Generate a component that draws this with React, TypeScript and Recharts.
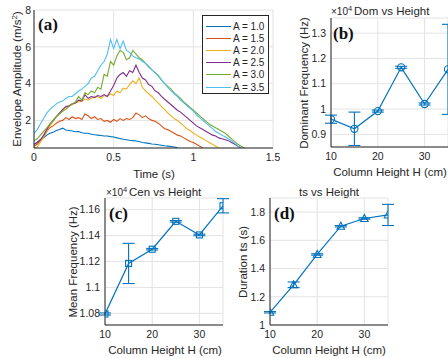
import React from "react";
import { LineChart, Line, XAxis, YAxis, CartesianGrid, ErrorBar } from "recharts";

// (a) envelope curves, sampled every 0.02 s
const time = [
  0, 0.02, 0.04, 0.06, 0.08, 0.1, 0.12, 0.14, 0.16, 0.18, 0.2, 0.22, 0.24, 0.26, 0.28, 0.3, 0.32,
  0.34, 0.36, 0.38, 0.4, 0.42, 0.44, 0.46, 0.48, 0.5, 0.52, 0.54, 0.56, 0.58, 0.6, 0.62, 0.64,
  0.66, 0.68, 0.7, 0.72, 0.74, 0.76, 0.78, 0.8, 0.82, 0.84, 0.86, 0.88, 0.9, 0.92, 0.94, 0.96,
  0.98, 1.0, 1.02, 1.04, 1.06, 1.08, 1.1, 1.12, 1.14, 1.16, 1.18, 1.2, 1.22, 1.24, 1.26, 1.28,
  1.3, 1.32,
];
const amp10 = [
  0.7, 0.8, 0.95, 1.05, 1.2, 1.3, 1.35, 1.45, 1.5, 1.58, 1.48, 1.45, 1.42, 1.38, 1.4, 1.33, 1.3,
  1.3, 1.25, 1.22, 1.2, 1.18, 1.15, 1.15, 1.12, 1.1, 1.05, 1.02, 0.98, 0.95, 0.92, 0.9, 0.88,
  0.85, 0.8, 0.78, 0.75, 0.72, 0.7, 0.68, 0.65, 0.62, 0.6, 0.58, 0.55, 0.52,
];
const amp15 = [
  0.6, 0.7, 0.9, 1.1, 1.4, 1.6, 1.7, 1.85, 1.95, 2.0, 2.15, 2.05, 2.2, 2.1, 2.15, 2.05, 2.35,
  2.25, 2.1, 2.2, 2.05, 2.1, 1.95, 2.0, 1.9, 2.05, 1.95, 2.1, 2.0, 2.1, 2.05, 2.15, 2.4, 2.3,
  2.15, 2.25, 2.1, 2.0, 1.95, 1.85, 1.7, 1.55, 1.5, 1.4, 1.3, 1.2, 1.15, 1.05, 0.95, 0.85, 0.8,
  0.7, 0.6, 0.52,
];
const amp20 = [
  0.5, 0.55, 0.8, 1.1, 1.4, 1.7, 1.95, 2.2, 2.4, 2.55, 2.7, 2.8, 2.85, 2.95, 3.0, 3.05, 3.15,
  3.1, 3.2, 3.25, 3.3, 3.2, 3.35, 3.3, 3.45, 3.35, 3.6, 3.5, 3.75, 3.7, 3.95, 4.15, 4.0, 4.3,
  3.8, 3.6, 3.45, 3.3, 3.1, 2.95, 2.75, 2.6, 2.4, 2.25, 2.1, 2.0, 1.85, 1.7, 1.55, 1.45, 1.3,
  1.2, 1.1, 1.0, 0.9, 0.8, 0.7, 0.6, 0.52,
];
const amp25 = [
  0.7, 0.8, 0.95, 1.2, 1.5, 1.8, 2.0, 2.2, 2.4, 2.6, 2.75, 2.8, 2.9, 2.95, 3.1, 3.05, 3.4, 3.2,
  3.3, 3.25, 3.35, 3.3, 3.4, 3.3, 3.6, 3.9, 4.3, 4.5, 4.6, 4.4, 4.7, 4.6, 5.0, 4.6, 4.3, 4.2,
  3.95, 3.85, 3.6, 3.5, 3.3, 3.15, 3.0, 2.85, 2.7, 2.55, 2.45, 2.3, 2.15, 2.0, 1.85, 1.7, 1.6,
  1.5, 1.4, 1.3, 1.2, 1.15, 1.05, 1.0, 0.95, 0.9, 0.8, 0.7, 0.6, 0.5,
];
const amp30 = [
  0.9, 1.0, 1.2, 1.4, 1.6, 1.8, 2.0, 2.2, 2.35, 2.5, 2.6, 2.75, 2.9, 3.0, 3.3, 3.1, 3.5, 3.4,
  3.6, 3.5, 3.8, 3.7, 4.5, 4.4, 5.2, 5.0, 5.5, 5.8, 5.7, 5.3, 5.4, 5.8, 5.6, 5.4, 5.3, 5.1, 4.9,
  4.75, 4.6, 4.45, 4.2, 4.0, 3.85, 3.7, 3.5, 3.35, 3.2, 3.0, 2.85, 2.7, 2.55, 2.4, 2.25, 2.1,
  1.95, 1.8, 1.7, 1.6, 1.5, 1.4, 1.3, 1.15, 1.0, 0.85, 0.7, 0.6, 0.5,
];
const amp35 = [
  1.3, 1.5, 1.8, 2.1, 2.4, 2.6, 2.75, 2.9, 3.0, 3.05, 3.2, 3.3, 3.3, 3.45, 3.6, 3.7, 3.85, 4.0,
  4.3, 4.4, 4.7, 5.0, 5.2, 5.6, 6.4, 5.9, 6.4, 5.9, 6.3, 5.8, 5.7, 5.5, 5.4, 5.35, 5.2, 5.1,
  4.95, 4.75, 4.6, 4.4, 4.2, 4.0, 3.8, 3.6, 3.45, 3.3, 3.1, 2.95, 2.8, 2.65, 2.5, 2.3, 2.15,
  2.0, 1.85, 1.7, 1.55, 1.4, 1.3, 1.2, 1.1, 1.0, 0.9, 0.75, 0.6, 0.5,
];
const ampLabels = ["A = 1.0", "A = 1.5", "A = 2.0", "A = 2.5", "A = 3.0", "A = 3.5"];
const ampColors = ["#0072BD", "#D95319", "#EDB120", "#7E2F8E", "#77AC30", "#4DBEEE"];
const ampSeries = [amp10, amp15, amp20, amp25, amp30, amp35];

// (b)-(d) versus column height
const heights = [10, 15, 20, 25, 30, 35];
const domFreq = [0.96, 0.922, 0.992, 1.165, 1.02, 1.157];
const domErr = [0.016, 0.066, 0.004, 0.004, 0.004, 0.178];
const cenFreq = [1.0795, 1.1185, 1.1295, 1.151, 1.1405, 1.163];
const cenErr = [0.0008, 0.0155, 0.0006, 0.0006, 0.0006, 0.0055];
const duration = [1.09, 1.285, 1.5, 1.7, 1.755, 1.78];
const durErr = [0.005, 0.02, 0.005, 0.005, 0.005, 0.075];

const blue = "#0072BD";
const axisColor = "#262626";
const gridColor = "#e3e3e3";
const sans = "Liberation Sans, Arial, sans-serif";
const tickStyle = { fontFamily: sans, fontSize: 10.5, fill: axisColor };

const envData = time.map((t, i) => {
  const row: Record<string, number | null> = { t };
  ampSeries.forEach((s, k) => {
    row["s" + k] = s[i] ?? null;
  });
  return row;
});

const heightData = heights.map((h, i) => ({
  h,
  dom: domFreq[i],
  domErr: domErr[i],
  cen: cenFreq[i],
  cenErr: cenErr[i],
  ts: duration[i],
  tsErr: durErr[i],
}));

const circleDot = (p: any) => (
  <circle key={"c" + p.index} cx={p.cx} cy={p.cy} r={3.6} fill="none" stroke={blue} strokeWidth={1.1} />
);
const squareDot = (p: any) => (
  <rect key={"q" + p.index} x={p.cx - 3} y={p.cy - 3} width={6} height={6} fill="none" stroke={blue} strokeWidth={1.1} />
);
const triDot = (p: any) => (
  <polygon
    key={"d" + p.index}
    points={`${p.cx},${p.cy - 4} ${p.cx - 3.8},${p.cy + 3} ${p.cx + 3.8},${p.cy + 3}`}
    fill="none"
    stroke={blue}
    strokeWidth={1.1}
  />
);

function Box({ xd, yd }: { xd: number[]; yd: number[] }) {
  return (
    <>
      <XAxis xAxisId="top" orientation="top" type="number" domain={xd} height={0} tick={false} tickLine={false} axisLine={{ stroke: axisColor }} />
      <YAxis yAxisId="right" orientation="right" type="number" domain={yd} width={0} tick={false} tickLine={false} axisLine={{ stroke: axisColor }} />
    </>
  );
}

function HeightPanel(props: {
  left: number;
  top: number;
  width: number;
  yWidth: number;
  dataKey: string;
  errKey: string;
  domain: number[];
  ticks: number[];
  dot: any;
  marginTop: number;
  xHeight: number;
  height: number;
}) {
  const xd = [10, 35];
  return (
    <div style={{ position: "absolute", left: props.left, top: props.top }}>
      <LineChart
        width={props.width}
        height={props.height}
        data={heightData}
        margin={{ top: props.marginTop, right: 7, bottom: 0, left: 0 }}
      >
        <CartesianGrid stroke={gridColor} />
        <XAxis
          dataKey="h"
          type="number"
          domain={xd}
          ticks={[10, 20, 30]}
          height={props.xHeight}
          tick={tickStyle}
          tickLine={false}
          tickSize={3}
          tickMargin={3}
          axisLine={{ stroke: axisColor }}
          allowDataOverflow
        />
        <YAxis
          type="number"
          domain={props.domain}
          ticks={props.ticks}
          width={props.yWidth}
          tick={tickStyle}
          tickLine={false}
          tickSize={3}
          tickMargin={2}
          axisLine={{ stroke: axisColor }}
          allowDataOverflow
        />
        {Box({ xd, yd: props.domain })}
        <Line
          dataKey={props.dataKey}
          stroke={blue}
          strokeWidth={1.2}
          dot={props.dot}
          activeDot={false}
          isAnimationActive={false}
        >
          <ErrorBar dataKey={props.errKey} direction="y" width={6} stroke={blue} strokeWidth={1.1} />
        </Line>
      </LineChart>
    </div>
  );
}

export default function App() {
  return (
    <div
      style={{
        position: "absolute",
        left: 0,
        top: 0,
        width: 448,
        height: 358,
        overflow: "hidden",
        background: "#fff",
      }}
    >
      {/* (a) */}
      <div style={{ position: "absolute", left: 0, top: 0 }}>
        <LineChart width={280} height={180} data={envData} margin={{ top: 10, right: 7, bottom: 0, left: 0 }}>
          <CartesianGrid stroke={gridColor} />
          <XAxis
            dataKey="t"
            type="number"
            domain={[0, 1.5]}
            ticks={[0, 0.5, 1, 1.5]}
            height={32}
            tick={tickStyle}
            tickLine={false}
            tickSize={3}
            tickMargin={3}
            axisLine={{ stroke: axisColor }}
            allowDataOverflow
          />
          <YAxis
            type="number"
            domain={[0.5, 8]}
            ticks={[2, 4, 6, 8]}
            width={34}
            tick={tickStyle}
            tickLine={false}
            tickSize={2}
            tickMargin={1}
            axisLine={{ stroke: axisColor }}
            allowDataOverflow
          />
          {Box({ xd: [0, 1.5], yd: [0.5, 8] })}
          {ampSeries.map((_, k) => (
            <Line
              key={k}
              dataKey={"s" + k}
              stroke={ampColors[k]}
              strokeWidth={1.1}
              dot={false}
              activeDot={false}
              connectNulls={false}
              isAnimationActive={false}
            />
          ))}
        </LineChart>
      </div>

      {HeightPanel({
        left: 280, top: 0, width: 175, height: 175, yWidth: 51, marginTop: 18, xHeight: 28,
        dataKey: "dom", errKey: "domErr", domain: [0.85, 1.36], ticks: [0.9, 1, 1.1, 1.2, 1.3], dot: circleDot,
      })}
      {HeightPanel({
        left: 40, top: 180, width: 190, height: 175, yWidth: 65, marginTop: 18, xHeight: 30,
        dataKey: "cen", errKey: "cenErr", domain: [1.071, 1.169], ticks: [1.08, 1.1, 1.12, 1.14, 1.16], dot: squareDot,
      })}
      {HeightPanel({
        left: 220, top: 180, width: 175, height: 175, yWidth: 50, marginTop: 18, xHeight: 30,
        dataKey: "ts", errKey: "tsErr", domain: [1, 1.9], ticks: [1, 1.2, 1.4, 1.6, 1.8], dot: triDot,
      })}

      {/* legend of (a) */}
      <div
        style={{
          position: "absolute",
          left: 202,
          top: 15,
          width: 67,
          height: 79,
          border: "1px solid #262626",
          background: "#fff",
          padding: "4px 0 0 3px",
          boxSizing: "border-box",
        }}
      >
        {ampLabels.map((l, k) => (
          <div
            key={l}
            style={{
              display: "flex",
              alignItems: "center",
              height: 12.2,
              whiteSpace: "nowrap",
              fontFamily: sans,
              fontSize: 10,
              color: axisColor,
            }}
          >
            <div style={{ width: 25, flex: "none", height: 0, borderTop: `1.2px solid ${ampColors[k]}`, marginRight: 2 }} />
            <span>{l}</span>
          </div>
        ))}
      </div>

      <svg width={448} height={358} style={{ position: "absolute", left: 0, top: 0, pointerEvents: "none" }}>
        <g fontFamily={sans} fontSize={11.5} fill={axisColor}>
          <text transform="translate(21,79) rotate(-90)" textAnchor="middle">
            Envelope Amplitude (m/s<tspan dy={-4} fontSize={8}>2</tspan><tspan dy={4}>)</tspan>
          </text>
          <text x={154} y={178} textAnchor="middle">Time (s)</text>

          <text x={331} y={15} fontSize={10}>×10<tspan dy={-4} fontSize={7.5}>4</tspan></text>
          <text x={354} y={15}>Dom vs Height</text>
          <text transform="translate(308,83) rotate(-90)" textAnchor="middle">Dominant Frequency (Hz)</text>
          <text x={390} y={176} textAnchor="middle">Column Height H (cm)</text>

          <text x={106} y={196} fontSize={10}>×10<tspan dy={-4} fontSize={7.5}>4</tspan></text>
          <text x={129} y={196}>Cen vs Height</text>
          <text transform="translate(77,262) rotate(-90)" textAnchor="middle">Mean Frequency (Hz)</text>
          <text x={165} y={354} textAnchor="middle">Column Height H (cm)</text>

          <text x={329} y={196} textAnchor="middle">ts vs Height</text>
          <text transform="translate(247,262) rotate(-90)" textAnchor="middle">Duration ts (s)</text>
          <text x={329} y={354} textAnchor="middle">Column Height H (cm)</text>
        </g>
        <g fontFamily="Liberation Serif, Times New Roman, serif" fontWeight="bold" fontSize={17} fill="#111">
          <text x={38} y={30}>(a)</text>
          <text x={333} y={39}>(b)</text>
          <text x={109} y={219}>(c)</text>
          <text x={274} y={219}>(d)</text>
        </g>
      </svg>
    </div>
  );
}
